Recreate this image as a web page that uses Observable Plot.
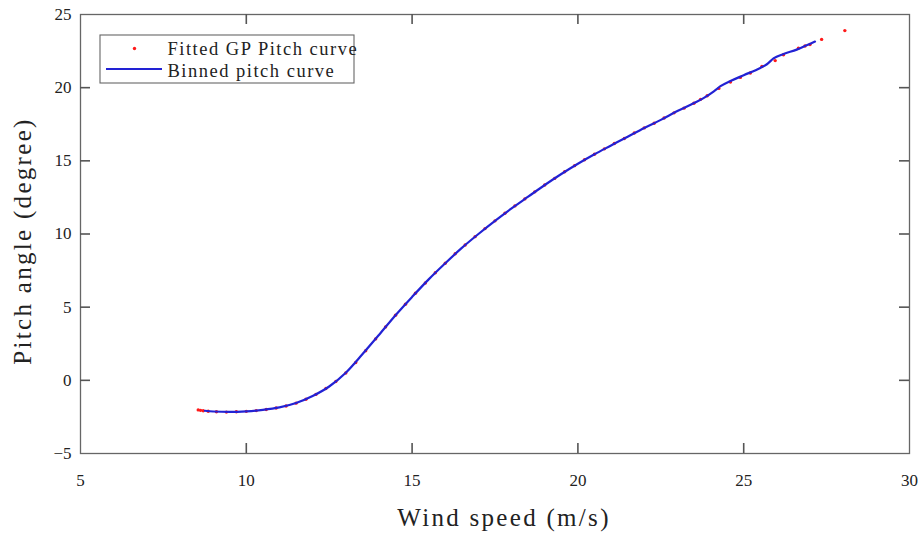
<!DOCTYPE html>
<html>
<head>
<meta charset="utf-8">
<script src="https://cdn.jsdelivr.net/npm/d3@7"></script>
<script src="https://cdn.jsdelivr.net/npm/@observablehq/plot@0.6"></script>
<style>
  html, body { margin: 0; padding: 0; background: #fff; }
  #chart { width: 923px; height: 535px; }
</style>
</head>
<body>
<div id="chart"></div>
<script>
// Binned pitch curve (blue line)
const binnedSpeed = [8.75, 9.0, 9.5, 10.0, 10.5, 11.0, 11.5, 12.0, 12.5, 13.0, 13.5, 14.0, 14.5, 15.0, 15.5, 16.0, 16.5, 17.0, 17.5, 18.0, 18.5, 19.0, 19.5, 20.0, 20.5, 21.0, 21.5, 22.0, 22.5, 23.0, 23.5, 23.8, 24.1, 24.3, 24.6, 25.0, 25.5, 25.7, 25.9, 26.2, 26.6, 26.9, 27.15];
const binnedPitch = [-2.08, -2.13, -2.16, -2.12, -2.02, -1.85, -1.55, -1.07, -0.42, 0.52, 1.78, 3.1, 4.45, 5.7, 6.9, 8.0, 9.05, 10.0, 10.9, 11.75, 12.55, 13.35, 14.1, 14.8, 15.45, 16.05, 16.65, 17.25, 17.8, 18.4, 18.95, 19.3, 19.75, 20.1, 20.45, 20.85, 21.35, 21.6, 22.0, 22.3, 22.6, 22.9, 23.15];

// Fitted GP pitch curve (red dots)
const gpSpeed = [8.55, 8.62, 8.7, 8.85, 9.1, 9.4, 9.7, 10.0, 10.3, 10.6, 10.9, 11.2, 11.5, 11.8, 12.1, 12.4, 12.7, 13.0, 13.3, 13.6, 13.9, 14.2, 14.5, 14.8, 15.1, 15.4, 15.7, 16.0, 16.3, 16.6, 16.9, 17.2, 17.5, 17.8, 18.1, 18.4, 18.7, 19.0, 19.3, 19.6, 19.9, 20.2, 20.5, 20.8, 21.1, 21.4, 21.7, 22.0, 22.3, 22.6, 22.9, 23.2, 23.5, 23.7, 23.9, 24.25, 24.6, 24.9, 25.2, 25.55, 25.95, 26.2, 26.65, 26.85, 27.0, 27.35, 28.05];
const gpPitch = [-2.02, -2.05, -2.08, -2.11, -2.15, -2.17, -2.15, -2.12, -2.07, -1.99, -1.89, -1.75, -1.56, -1.29, -0.96, -0.56, -0.08, 0.5, 1.22, 2.02, 2.83, 3.65, 4.45, 5.2, 5.95, 6.65, 7.35, 8.0, 8.65, 9.25, 9.82, 10.37, 10.9, 11.42, 11.92, 12.4, 12.88, 13.35, 13.8, 14.25, 14.67, 15.07, 15.45, 15.82, 16.18, 16.53, 16.9, 17.25, 17.57, 17.93, 18.28, 18.6, 18.93, 19.2, 19.45, 19.95, 20.38, 20.7, 21.0, 21.45, 21.85, 22.25, 22.7, 22.85, 22.95, 23.3, 23.9];

const xTicks = [5, 10, 15, 20, 25, 30];
const yTicks = [-5, 0, 5, 10, 15, 20, 25];
const xInner = [10, 15, 20, 25];
const yInner = [0, 5, 10, 15, 20];
const legendLabels = ["Fitted GP Pitch curve", "Binned pitch curve"];
const xTitle = "Wind speed (m/s)";
const yTitle = "Pitch angle (degree)";

const binned = binnedSpeed.map((s, i) => ({speed: s, pitch: binnedPitch[i]}));
const gp = gpSpeed.map((s, i) => ({speed: s, pitch: gpPitch[i]}));

const W = 923, H = 535;
const mL = 80, mR = 14, mT = 14, mB = 82;
const frameW = W - mL - mR, frameH = H - mT - mB;
const tickLen = 10;
const frameColor = "#666666";
const tickColor = "#555555";
const blue = "#2222d4";
const red = "#ff1a1a";

const chart = Plot.plot({
  width: W,
  height: H,
  marginLeft: mL,
  marginRight: mR,
  marginTop: mT,
  marginBottom: mB,
  style: {fontFamily: "'Liberation Serif', serif", fontSize: "17px", color: "#222"},
  x: {domain: [5, 30], ticks: xTicks},
  y: {domain: [-5, 25], ticks: yTicks},
  marks: [
    Plot.frame({stroke: frameColor, fill: "none", strokeWidth: 1.3}),
    Plot.axisX(xTicks, {tickSize: 0, tickPadding: 20, label: null, fontSize: 17}),
    Plot.axisY(yTicks, {tickSize: 0, tickPadding: 9, label: null, fontSize: 17}),
    // data
    Plot.dot(gp, {x: "speed", y: "pitch", r: 1.7, fill: red, stroke: "none"}),
    Plot.line(binned, {x: "speed", y: "pitch", stroke: blue, strokeWidth: 2.2, curve: "monotone-x"}),
    // legend
    Plot.rect([0], {insetLeft: 20, insetTop: 21, insetRight: W - mR - 354, insetBottom: (H - mB) - 83, fill: "white", stroke: frameColor, strokeWidth: 1.1}),
    Plot.dot([0], {frameAnchor: "top-left", dx: 134 - mL, dy: 48 - mT, r: 1.7, fill: red, stroke: "none"}),
    Plot.rect([0], {insetLeft: 106 - mL, insetRight: W - mR - 162, insetTop: 68 - mT, insetBottom: (H - mB) - 70, fill: blue}),
    Plot.text([legendLabels[0]], {frameAnchor: "top-left", lineAnchor: "middle", dx: 167 - mL, dy: 49 - mT, textAnchor: "start", fontSize: 18.5, fill: "#222"}),
    Plot.text([legendLabels[1]], {frameAnchor: "top-left", lineAnchor: "middle", dx: 167 - mL, dy: 71 - mT, textAnchor: "start", fontSize: 18.5, fill: "#222"}),
    // axis titles
    Plot.text([xTitle], {frameAnchor: "bottom", lineAnchor: "middle", textAnchor: "middle", dy: 64, dx: 9, fontSize: 25, fill: "#222"}),
    Plot.text([yTitle], {frameAnchor: "left", lineAnchor: "middle", textAnchor: "middle", dx: 22 - mL, dy: 7, rotate: -90, fontSize: 25, fill: "#222"}),
    // inward ticks (bottom, top, left, right), drawn last
    Plot.ruleX(xInner, {x: d => d, insetTop: frameH - tickLen, stroke: tickColor, strokeWidth: 1.6}),
    Plot.ruleX(xInner, {x: d => d, insetBottom: frameH - tickLen, stroke: tickColor, strokeWidth: 1.6}),
    Plot.ruleY(yInner, {y: d => d, insetRight: frameW - tickLen, stroke: tickColor, strokeWidth: 1.6}),
    Plot.ruleY(yInner, {y: d => d, insetLeft: frameW - tickLen, stroke: tickColor, strokeWidth: 1.6})
  ]
});
chart.querySelectorAll("text").forEach(t => {
  const s = t.getAttribute("font-size") || (t.parentNode && t.parentNode.getAttribute && t.parentNode.getAttribute("font-size"));
  if (s && +s >= 25) t.style.letterSpacing = "2.3px";
  else if (s && +s >= 18) t.style.letterSpacing = "1.5px";
});
document.getElementById("chart").appendChild(chart);
</script>
</body>
</html>
